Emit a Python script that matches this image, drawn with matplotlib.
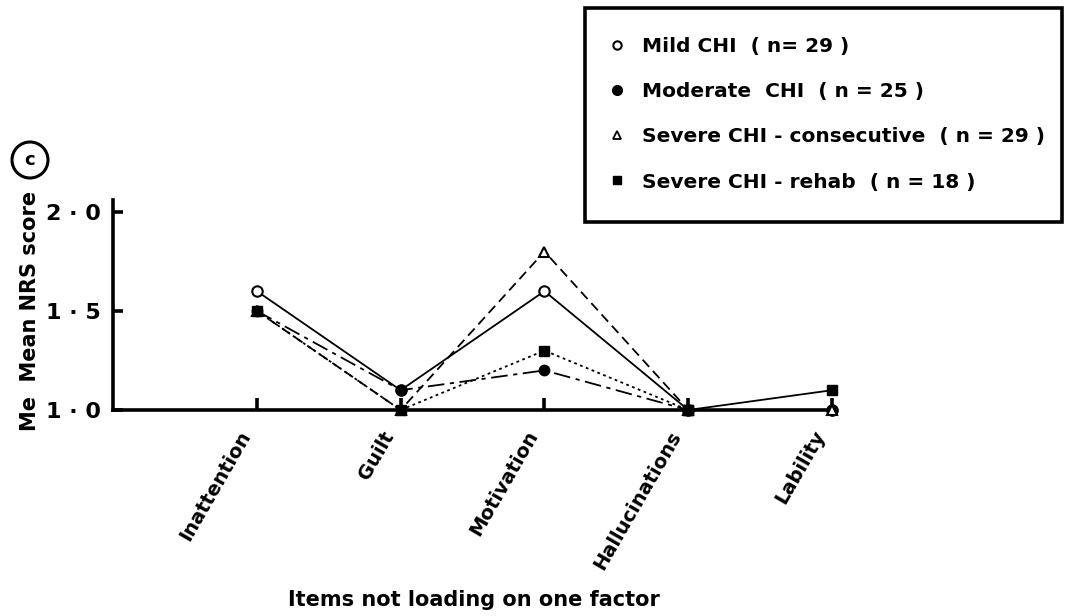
import matplotlib
matplotlib.use("Agg")
import matplotlib.pyplot as plt
from matplotlib.lines import Line2D
from matplotlib.patches import Rectangle, Ellipse
import matplotlib.transforms as mtransforms

plt.rcParams['font.family'] = ['DejaVu Sans']
plt.rcParams['lines.scale_dashes'] = False

categories = ["Inattention", "Guilt", "Motivation", "Hallucinations", "Lability"]
mild = [1.6, 1.1, 1.6, 1.0, 1.0]
moderate = [1.5, 1.1, 1.2, 1.0, 1.0]
severe_consec = [1.5, 1.0, 1.8, 1.0, 1.0]
severe_rehab = [1.5, 1.0, 1.3, 1.0, 1.1]
labels = ["Mild CHI  ( n= 29 )", "Moderate  CHI  ( n = 25 )",
          "Severe CHI - consecutive  ( n = 29 )", "Severe CHI - rehab  ( n = 18 )"]
ytick_vals = [1.0, 1.5, 2.0]
ytick_labels = ["1 · 0", "1 · 5", "2 · 0"]

W, H = 1066, 616
fig = plt.figure(figsize=(W / 100, H / 100), dpi=100)
ax = fig.add_axes([113 / W, 1 - 410 / H, (835 - 113) / W, 210 / H])

x = list(range(len(categories)))
ms = 7.5
ax.plot(x, mild, color='black', lw=1.3, ls='-', marker='o', mfc='white',
        mec='black', mew=1.5, ms=ms, clip_on=False, zorder=4)
ax.plot(x, moderate, color='black', lw=1.3, ls=(0, (12, 4, 3, 4)), marker='o',
        mfc='black', mec='black', ms=ms, clip_on=False, zorder=4)
ax.plot(x, severe_consec, color='black', lw=1.3, ls=(0, (7, 4)), marker='^',
        mfc='white', mec='black', mew=1.5, ms=ms, clip_on=False, zorder=4)
ax.plot(x[:4], severe_rehab[:4], color='black', lw=1.3, ls=(0, (2, 2.5)),
        marker='s', mfc='black', mec='black', ms=ms, clip_on=False, zorder=5)
ax.plot(x[3:], severe_rehab[3:], color='black', lw=1.3, ls='-', marker='s',
        mfc='black', mec='black', ms=ms, clip_on=False, zorder=5)

ax.set_xlim(-1, 4.02)
ax.set_ylim(1.0, 2.06)
for s in ['top', 'right']:
    ax.spines[s].set_visible(False)
for s in ['left', 'bottom']:
    ax.spines[s].set_linewidth(2.6)

ax.set_xticks(x)
ax.set_xticklabels(categories, rotation=60, ha='right', va='center',
                   rotation_mode='anchor', fontsize=14, fontweight='bold')
ax.tick_params(axis='x', direction='in', length=9, width=2.6, pad=16)
shift = mtransforms.ScaledTranslation(-11 / 100, 0, fig.dpi_scale_trans)
for lab in ax.get_xticklabels():
    lab.set_transform(lab.get_transform() + shift)
ax.set_yticks(ytick_vals)
ax.set_yticklabels(ytick_labels, fontsize=16, fontweight='bold')
ax.tick_params(axis='y', direction='in', length=7, width=2.6, pad=9)

fig.text(30 / W, 1 - 311 / H, "Me  Mean NRS score", rotation=90, ha='center',
         va='center', fontsize=15, fontweight='bold')
fig.text(474 / W, 1 - 600 / H, "Items not loading on one factor", ha='center',
         va='center', fontsize=15, fontweight='bold')

# (c) panel label
fig.patches.append(Ellipse((30 / W, 1 - 160 / H), 36 / W, 36 / H,
                           transform=fig.transFigure, fill=False, lw=2.2,
                           ec='black'))
fig.text(30 / W, 1 - 160 / H, "c", ha='center', va='center', fontsize=13,
         fontweight='bold')

# legend box
fig.patches.append(Rectangle((585 / W, 1 - 222 / H), 477 / W, 214 / H,
                             transform=fig.transFigure, fill=False, lw=2.6,
                             ec='black', clip_on=False))
handles = [
    Line2D([], [], ls='none', marker='o', mfc='white', mec='black', mew=1.5, ms=6),
    Line2D([], [], ls='none', marker='o', mfc='black', mec='black', ms=7),
    Line2D([], [], ls='none', marker='^', mfc='white', mec='black', mew=1.3, ms=6),
    Line2D([], [], ls='none', marker='s', mfc='black', mec='black', ms=6),
]
fig.legend(handles, labels, loc='upper left', bbox_to_anchor=(607 / W, 1 - 37 / H),
           frameon=False, prop={'size': 14.5, 'weight': 'bold'}, labelspacing=1.3,
           handlelength=1.0, handletextpad=0.75, borderpad=0, borderaxespad=0)

fig.savefig("out.png", dpi=100)
